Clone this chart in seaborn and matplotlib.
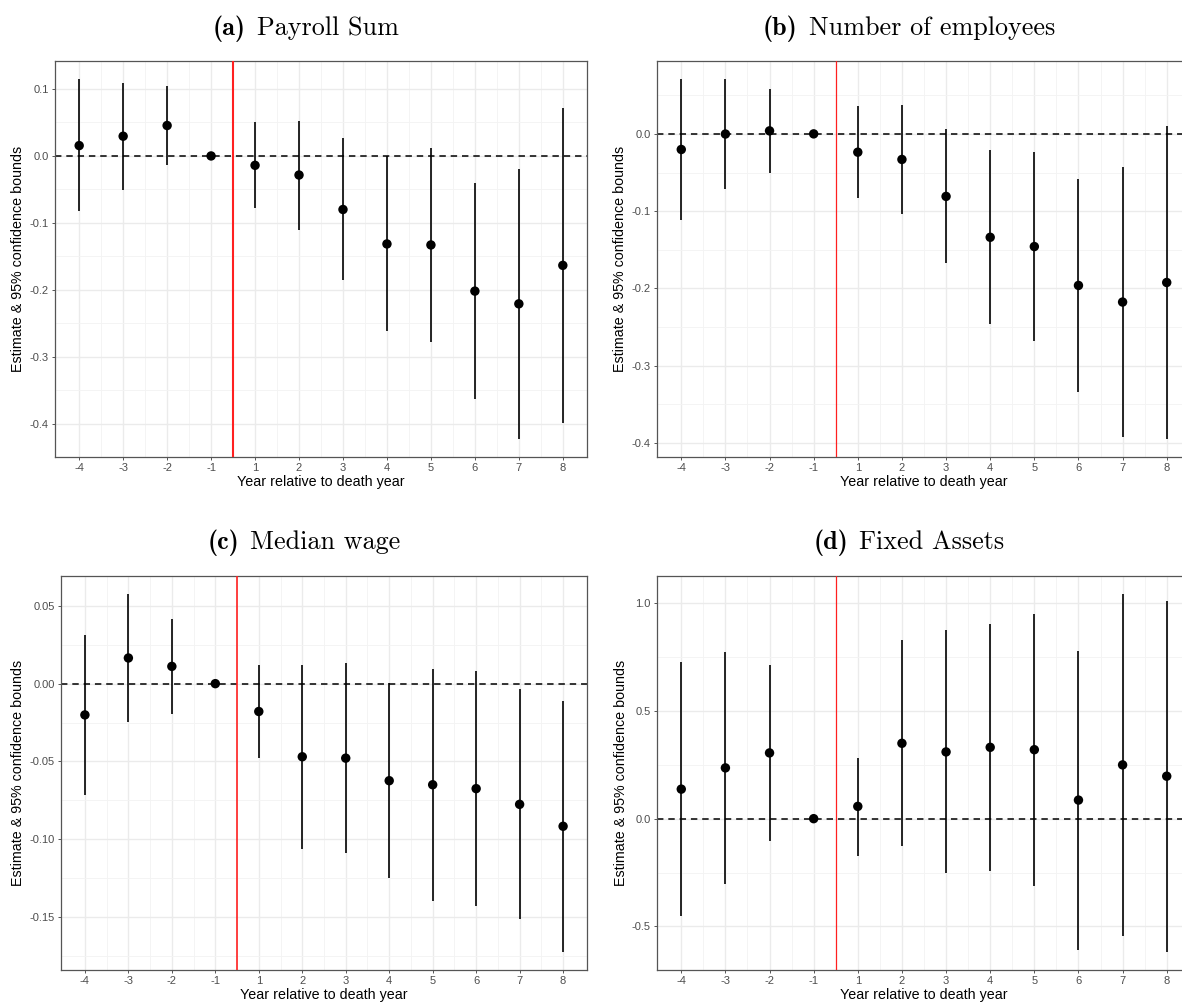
import numpy as np
import pandas as pd
import matplotlib
matplotlib.use("Agg")
import matplotlib.pyplot as plt
import seaborn as sns
from matplotlib.ticker import MultipleLocator, FuncFormatter, FixedLocator

# ---------------- data ----------------
years = [-4, -3, -2, -1, 1, 2, 3, 4, 5, 6, 7, 8]
year_labels = [str(y) for y in years]

payroll_est = [0.0155, 0.0295, 0.0455, 0.0, -0.014, -0.0285, -0.0800, -0.1315, -0.1330, -0.2020, -0.2210, -0.1635]
payroll_lo = [-0.0830, -0.0510, -0.0135, 0.0, -0.0785, -0.1100, -0.1860, -0.2610, -0.2785, -0.3630, -0.4230, -0.3990]
payroll_hi = [0.1150, 0.1095, 0.1045, 0.0, 0.0505, 0.0525, 0.0265, 0.0000, 0.0125, -0.0405, -0.0195, 0.0720]

employees_est = [-0.0202, -0.0002, 0.0039, 0.0, -0.0237, -0.0331, -0.0809, -0.1338, -0.1458, -0.1961, -0.2176, -0.1923]
employees_lo = [-0.1120, -0.0714, -0.0503, 0.0, -0.0834, -0.1032, -0.1677, -0.2460, -0.2675, -0.3338, -0.3927, -0.3948]
employees_hi = [0.0710, 0.0705, 0.0576, 0.0, 0.0360, 0.0378, 0.0069, -0.0215, -0.0232, -0.0589, -0.0426, 0.0103]

wage_est = [-0.0201, 0.0165, 0.0111, 0.0, -0.0179, -0.0470, -0.0479, -0.0624, -0.0650, -0.0675, -0.0776, -0.0917]
wage_lo = [-0.0714, -0.0248, -0.0194, 0.0, -0.0481, -0.1064, -0.1092, -0.1252, -0.1395, -0.1427, -0.1513, -0.1726]
wage_hi = [0.0310, 0.0577, 0.0417, 0.0, 0.0120, 0.0122, 0.0135, 0.0006, 0.0094, 0.0081, -0.0034, -0.0109]

assets_est = [0.137, 0.2356, 0.305, 0.0, 0.057, 0.3496, 0.3096, 0.331, 0.320, 0.0862, 0.2495, 0.197]
assets_lo = [-0.453, -0.302, -0.103, 0.0, -0.171, -0.128, -0.2526, -0.242, -0.311, -0.607, -0.545, -0.619]
assets_hi = [0.727, 0.775, 0.713, 0.0, 0.283, 0.830, 0.875, 0.904, 0.950, 0.779, 1.0427, 1.0118]

title_tags = ["(a)", "(b)", "(c)", "(d)"]
title_names = ["Payroll Sum", "Number of employees", "Median wage", "Fixed Assets"]
xlabel = "Year relative to death year"
ylabel = "Estimate & 95% confidence bounds"

# ---------------- style ----------------
sns.set_theme(style="white")
plt.rcParams["font.family"] = ["Liberation Sans", "DejaVu Sans"]

W, H = 1182, 1006
fig = plt.figure(figsize=(W / 100, H / 100), dpi=100)
fig.patch.set_facecolor("white")
renderer = fig.canvas.get_renderer()

def px_axes(left, top, right, bottom):
    return fig.add_axes([left / W, 1 - bottom / H, (right - left) / W, (bottom - top) / H])

def title_at(cx, baseline, tag, name, size=18.8):
    t1 = fig.text(0, 1 - baseline / H, tag, fontfamily="cmb10", fontsize=size,
                  ha="left", va="baseline", color="black")
    t2 = fig.text(0, 1 - baseline / H, name, fontfamily="cmr10", fontsize=size,
                  ha="left", va="baseline", color="black")
    w1 = t1.get_window_extent(renderer).width
    w2 = t2.get_window_extent(renderer).width
    gap = size * 1.39 * 0.42
    total = w1 + gap + w2
    x0 = cx - total / 2
    t1.set_x(x0 / W)
    t2.set_x((x0 + w1 + gap) / W)

panels = [
    dict(est=payroll_est, lo=payroll_lo, hi=payroll_hi, box=(55, 61, 587, 457),
         ystep=0.1, fmt="{:.1f}", tpos=(306, 35), redlw=1.5),
    dict(est=employees_est, lo=employees_lo, hi=employees_hi, box=(657, 61, 1191, 457),
         ystep=0.1, fmt="{:.1f}", tpos=(909, 35), redlw=0.9),
    dict(est=wage_est, lo=wage_lo, hi=wage_hi, box=(61, 576, 587, 970),
         ystep=0.05, fmt="{:.2f}", tpos=(304, 549), redlw=1.2),
    dict(est=assets_est, lo=assets_lo, hi=assets_hi, box=(657, 576, 1191, 970),
         ystep=0.5, fmt="{:.1f}", tpos=(909, 549), redlw=0.9),
]

pos = np.arange(1, len(years) + 1)
# boundary between year -1 and year 1
red_x = (pos[years.index(-1)] + pos[years.index(1)]) / 2

for p, tag, name in zip(panels, title_tags, title_names):
    ax = px_axes(*p["box"])
    ax.set_facecolor("white")
    df = pd.DataFrame({"pos": pos, "est": p["est"], "lo": p["lo"], "hi": p["hi"]})

    ax.axhline(0, color="black", lw=1.1, ls=(0, (4.2, 3.2)), zorder=2)
    ax.axvline(red_x, color="#FF2020", lw=p["redlw"], zorder=3)
    ax.vlines(df["pos"], df["lo"], df["hi"], color="black", lw=1.2, zorder=4)
    sns.scatterplot(data=df, x="pos", y="est", ax=ax, color="black", s=46,
                    edgecolor="none", linewidth=0, zorder=5, legend=False)

    # limits: ggplot default 5% expansion
    ymin = min(df["lo"].min(), df["est"].min())
    ymax = max(df["hi"].max(), df["est"].max())
    r = ymax - ymin
    ax.set_ylim(ymin - 0.05 * r, ymax + 0.05 * r)
    ax.set_xlim(1 - 0.05 * 11, 12 + 0.05 * 11)

    ax.xaxis.set_major_locator(FixedLocator(pos))
    ax.set_xticklabels(year_labels)
    ax.xaxis.set_minor_locator(FixedLocator(pos[:-1] + 0.5))
    ax.yaxis.set_major_locator(MultipleLocator(p["ystep"]))
    ax.yaxis.set_minor_locator(MultipleLocator(p["ystep"] / 2))
    fmt = p["fmt"]
    ax.yaxis.set_major_formatter(FuncFormatter(lambda v, _, f=fmt: f.format(v + 0.0).replace("\u2212", "-")))

    ax.grid(which="major", color="#EBEBEB", lw=1.0, zorder=0)
    ax.grid(which="minor", color="#F3F3F3", lw=0.6, zorder=0)
    ax.set_axisbelow(True)

    for s in ax.spines.values():
        s.set_color("#555555")
        s.set_linewidth(0.9)
    ax.tick_params(which="major", axis="both", direction="out", length=2.5, width=0.7,
                   color="#555555", labelcolor="#4D4D4D", labelsize=8, pad=2, bottom=True, left=True)
    ax.tick_params(which="minor", length=0)

    ax.set_xlabel(xlabel, fontsize=10.3, color="black", labelpad=1)
    ax.set_ylabel(ylabel, fontsize=10.3, color="black", labelpad=3)

    title_at(p["tpos"][0], p["tpos"][1], tag, name)

fig.savefig("out.png", dpi=100, facecolor="white")
